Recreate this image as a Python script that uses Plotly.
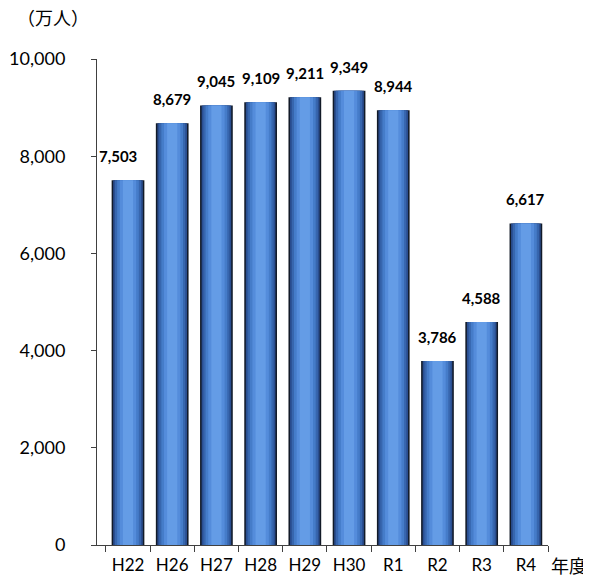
import plotly.graph_objects as go

categories = ["H22", "H26", "H27", "H28", "H29", "H30", "R1", "R2", "R3", "R4"]
values = [7503, 8679, 9045, 9109, 9211, 9349, 8944, 3786, 4588, 6617]
y_ticks = [0, 2000, 4000, 6000, 8000, 10000]
y_tick_labels = ["0", "2,000", "4,000", "6,000", "8,000", "10,000"]

FONT = "Lato, Noto Sans CJK JP, sans-serif"

fig = go.Figure()

# layered bars to imitate the cylindrical gradient
layers = [
    (0.74, "#121a28"),
    (0.67, "#2a4e90"),
    (0.59, "#3766ae"),
    (0.49, "#457cc9"),
    (0.37, "#548cdb"),
    (0.23, "#649ce6"),
]
for w, c in layers:
    fig.add_trace(go.Bar(
        x=categories, y=values, width=w,
        marker=dict(color=c, line=dict(width=0)),
        hoverinfo="skip", showlegend=False,
    ))

for cat, v in zip(categories, values):
    fig.add_annotation(
        x=cat, y=v, text=f"<b>{v:,}</b>", showarrow=False,
        yanchor="bottom", yshift=13, xshift=-10 if cat == "H22" else 0,
        font=dict(size=15, color="#000000", family=FONT),
    )

fig.add_annotation(
    xref="paper", yref="paper", x=1.0, y=0, xshift=1, yshift=-21,
    xanchor="left", yanchor="middle", text="年度", showarrow=False,
    font=dict(size=18, color="#000000", family=FONT),
)
fig.add_annotation(
    xref="paper", yref="paper", x=0, y=1, xshift=-82, yshift=41,
    xanchor="left", yanchor="middle", text="（万人）", showarrow=False,
    font=dict(size=18, color="#000000", family=FONT),
)

fig.update_layout(
    width=583, height=579,
    margin=dict(l=89, r=43, t=51, b=42, autoexpand=False),
    barmode="overlay",
    plot_bgcolor="white", paper_bgcolor="white",
    font=dict(family=FONT, color="#000000"),
    xaxis=dict(
        type="category", showgrid=False, showline=True, linecolor="#404040", linewidth=1,
        ticks="outside", tickson="boundaries", ticklen=6, tickcolor="#404040",
        tickfont=dict(size=17), ticklabelstandoff=5, automargin=False,
    ),
    yaxis=dict(
        range=[0, 10000], tickvals=y_ticks, ticktext=y_tick_labels,
        showgrid=False, showline=True, linecolor="#404040", linewidth=1,
        ticks="outside", ticklen=5, tickcolor="#404040",
        tickfont=dict(size=18), ticklabelstandoff=22, zeroline=False, automargin=False,
    ),
)

fig.write_html("out.html")
